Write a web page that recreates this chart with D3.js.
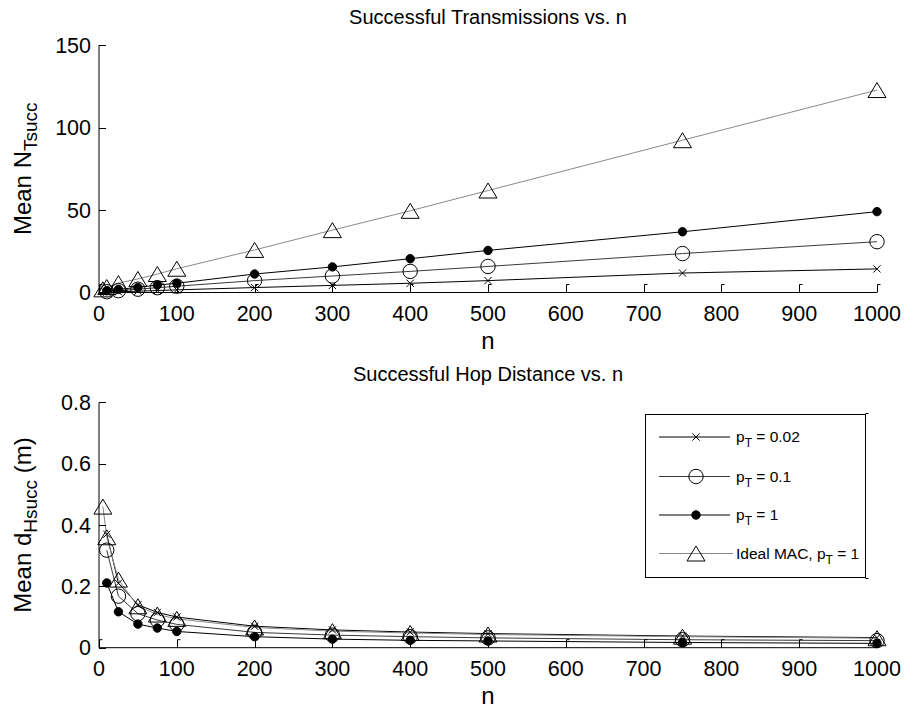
<!DOCTYPE html>
<html>
<head>
<meta charset="utf-8">
<script src="https://cdnjs.cloudflare.com/ajax/libs/d3/7.8.5/d3.min.js"></script>
<style>
  html, body { margin: 0; padding: 0; background: #fff; }
  svg { display: block; font-family: "Liberation Sans", Arial, Helvetica, sans-serif; }
</style>
</head>
<body>
<svg id="chart" width="906" height="711"></svg>
<script>
// Number of nodes for each simulated point
const nIdeal = [5, 10, 25, 50, 75, 100, 200, 300, 400, 500, 750, 1000];
const nSim   = [10, 25, 50, 75, 100, 200, 300, 400, 500, 750, 1000];

// Mean number of successful transmissions
const txP002  = [0.2, 0.4, 0.8, 1.2, 1.6, 3.0, 4.3, 5.6, 7.2, 11.8, 14.3];
const txP01   = [0.5, 1.1, 2.0, 2.9, 3.8, 7.2, 10.0, 12.8, 15.8, 23.6, 30.8];
const txP1    = [1.1, 1.9, 3.1, 4.5, 5.6, 11.2, 15.5, 20.5, 25.5, 36.8, 49.0];
const txIdeal = [1.9, 3.3, 5.7, 8.2, 11.2, 14.4, 25.8, 37.8, 49.5, 61.8, 92.3, 122.7];

// Mean successful hop distance (m)
const hopP002  = [0.37, 0.21, 0.14, 0.115, 0.10, 0.070, 0.058, 0.051, 0.046, 0.038, 0.033];
const hopP01   = [0.318, 0.168, 0.111, 0.090, 0.076, 0.050, 0.041, 0.036, 0.032, 0.026, 0.023];
const hopP1    = [0.211, 0.117, 0.077, 0.064, 0.053, 0.036, 0.028, 0.024, 0.022, 0.017, 0.014];
const hopIdeal = [0.46, 0.36, 0.222, 0.135, 0.108, 0.094, 0.066, 0.054, 0.048, 0.043, 0.036, 0.031];

// Axis ticks
const xTicks = [0, 100, 200, 300, 400, 500, 600, 700, 800, 900, 1000];
const yTicksTop = [0, 50, 100, 150];
const yTicksBottom = [0, 0.2, 0.4, 0.6, 0.8];

const legendLabels = ["0.02", "0.1", "1", "Ideal MAC"];

const svg = d3.select("#chart");
const FONT_TICK = 21.5;
const FONT_LABEL = 24;
const FONT_SUB = 19;
const FONT_TITLE = 20;

const x = d3.scaleLinear().domain([0, 1000]).range([99, 877]);
const yTop = d3.scaleLinear().domain([0, 150]).range([292.5, 45]);
const yBot = d3.scaleLinear().domain([0, 0.8]).range([647.7, 402.3]);

const series = [
  { name: "p002", style: "cross",    color: "#000",    top: txP002,  bot: hopP002,  n: nSim },
  { name: "p01",  style: "circle",   color: "#3a3a3a", top: txP01,   bot: hopP01,   n: nSim },
  { name: "p1",   style: "dot",      color: "#000",    top: txP1,    bot: hopP1,    n: nSim },
  { name: "ideal",style: "triangle", color: "#8a8a8a", top: txIdeal, bot: hopIdeal, n: nIdeal }
];

function drawMarker(g, style, cx, cy) {
  if (style === "cross") {
    const s = 3.6;
    g.append("path")
      .attr("d", `M${cx - s},${cy - s}L${cx + s},${cy + s}M${cx - s},${cy + s}L${cx + s},${cy - s}`)
      .attr("stroke", "#000").attr("stroke-width", 1).attr("fill", "none");
  } else if (style === "circle") {
    g.append("circle").attr("cx", cx).attr("cy", cy).attr("r", 7.2)
      .attr("fill", "none").attr("stroke", "#000").attr("stroke-width", 1);
  } else if (style === "dot") {
    g.append("circle").attr("cx", cx).attr("cy", cy).attr("r", 4.2)
      .attr("fill", "#000").attr("stroke", "#000").attr("stroke-width", 1);
  } else if (style === "triangle") {
    const w = 9, h = 7.5;
    g.append("path")
      .attr("d", `M${cx},${cy - h}L${cx + w},${cy + h}L${cx - w},${cy + h}Z`)
      .attr("fill", "none").attr("stroke", "#000").attr("stroke-width", 1);
  }
}

function drawPanel(y, yTicks, yFmt, key, title, ylabelMain, ylabelSub, ylabelTail) {
  const g = svg.append("g");
  const y0 = y.range()[0], y1 = y.range()[1];
  const x0 = x.range()[0], x1 = x.range()[1];

  // series lines then markers
  series.forEach(s => {
    const vals = s[key];
    const pts = s.n.map((n, i) => [n, vals[i]]);
    const line = d3.line().x(d => x(d[0])).y(d => y(d[1]));
    g.append("path").datum(pts).attr("d", line)
      .attr("fill", "none").attr("stroke", s.color).attr("stroke-width", 1);
  });
  series.forEach(s => {
    const vals = s[key];
    s.n.forEach((n, i) => drawMarker(g, s.style, x(n), y(vals[i])));
  });

  // axes (left and bottom only), ticks pointing inward
  g.append("line").attr("x1", x0).attr("x2", x0).attr("y1", y0).attr("y2", y1)
    .attr("stroke", "#000").attr("stroke-width", 1);
  g.append("line").attr("x1", x0).attr("x2", x1).attr("y1", y0).attr("y2", y0)
    .attr("stroke", "#000").attr("stroke-width", 1);

  xTicks.forEach(t => {
    const tx = Math.round(x(t)) + 0.5;
    g.append("path").attr("d", `M${tx},${y0}V${y0 - 8}H${tx + 3}`)
      .attr("fill", "none").attr("stroke", "#000").attr("stroke-width", 1);
    g.append("text").attr("x", x(t)).attr("y", y0 + 13).attr("dy", "0.71em")
      .attr("text-anchor", "middle").attr("font-size", FONT_TICK).text(t);
  });
  yTicks.forEach(t => {
    const ty = Math.round(y(t)) + 0.5;
    g.append("path").attr("d", `M${x0},${ty}H${x0 + 7}`)
      .attr("fill", "none").attr("stroke", "#000").attr("stroke-width", 1);
    g.append("text").attr("x", x0 - 8).attr("y", y(t)).attr("dy", "0.36em")
      .attr("text-anchor", "end").attr("font-size", FONT_TICK).text(yFmt(t));
  });

  // title and axis labels
  g.append("text").attr("x", (x0 + x1) / 2).attr("y", y1 - 21)
    .attr("text-anchor", "middle").attr("font-size", FONT_TITLE).text(title);
  g.append("text").attr("x", (x0 + x1) / 2).attr("y", y0 + 56)
    .attr("text-anchor", "middle").attr("font-size", FONT_LABEL).text("n");

  const yl = g.append("text")
    .attr("transform", `translate(31,${(y0 + y1) / 2}) rotate(-90)`)
    .attr("text-anchor", "middle").attr("font-size", FONT_LABEL);
  yl.append("tspan").text(ylabelMain);
  yl.append("tspan").attr("font-size", FONT_SUB).attr("dy", 6).text(ylabelSub);
  if (ylabelTail) yl.append("tspan").attr("dy", -6).text(ylabelTail);
  return g;
}

drawPanel(yTop, yTicksTop, d => d3.format("d")(d), "top",
  "Successful Transmissions vs. n", "Mean N", "Tsucc", null);
drawPanel(yBot, yTicksBottom, d => d === 0 ? "0" : d3.format(".1f")(d), "bot",
  "Successful Hop Distance vs. n", "Mean d", "Hsucc", " (m)");

// legend
const lg = svg.append("g");
const lx0 = 645.5, ly0 = 414.5, lx1 = 865.5, ly1 = 577.5;
lg.append("rect").attr("x", lx0).attr("y", ly0).attr("width", lx1 - lx0).attr("height", ly1 - ly0)
  .attr("fill", "#fff").attr("stroke", "#000").attr("stroke-width", 1);
lg.append("path").attr("d", `M${lx1},${ly0 - 1}H${lx1 + 3}M${lx1},${ly1 + 1}H${lx1 + 3}`)
  .attr("stroke", "#000").attr("stroke-width", 1);
const rowY = [437, 476.5, 515, 553.5];
series.forEach((s, i) => {
  const yy = rowY[i];
  lg.append("line").attr("x1", 659).attr("x2", i === 3 ? 733 : 730).attr("y1", yy).attr("y2", yy)
    .attr("stroke", s.color).attr("stroke-width", 1);
  drawMarker(lg, s.style, 696, yy);
  const t = lg.append("text").attr("x", 736).attr("y", yy + 5).attr("font-size", 15.5);
  if (i === 3) {
    t.append("tspan").text(legendLabels[i] + ", p");
  } else {
    t.append("tspan").text("p");
  }
  t.append("tspan").attr("font-size", 12).attr("dy", 5).text("T");
  t.append("tspan").attr("dy", -5).text(" = " + (i === 3 ? "1" : legendLabels[i]));
});
</script>
</body>
</html>
